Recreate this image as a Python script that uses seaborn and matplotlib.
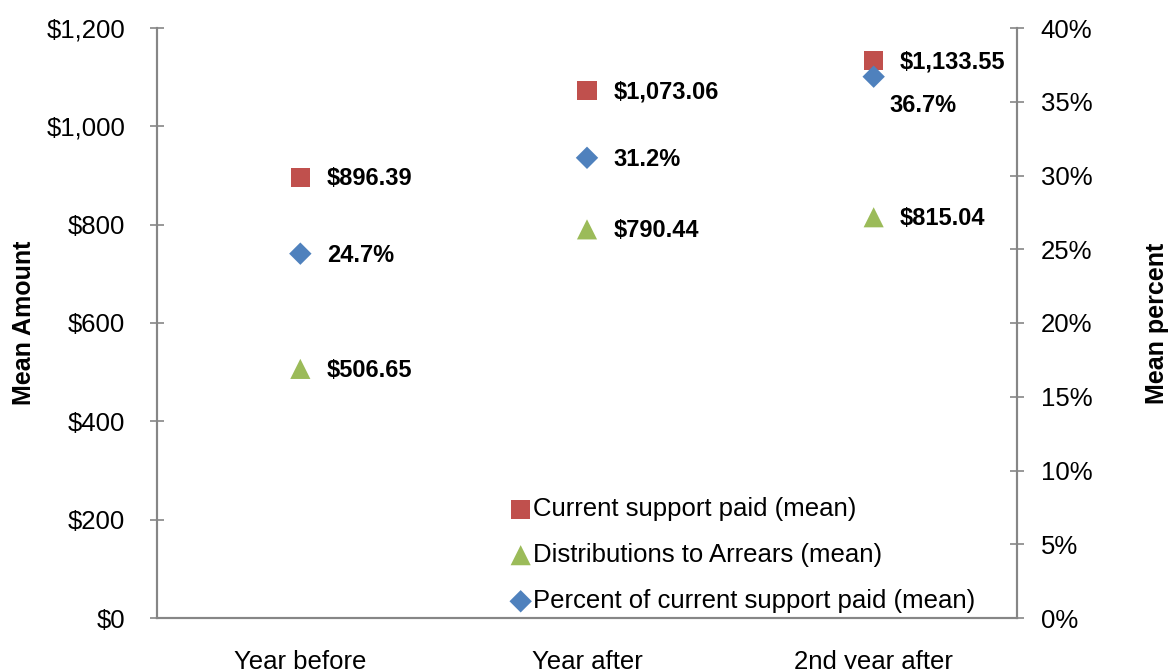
import matplotlib
matplotlib.use("Agg")
import matplotlib.pyplot as plt
from matplotlib.ticker import FuncFormatter
import seaborn as sns
import pandas as pd

# data
categories = ["Year before", "Year after", "2nd year after"]
current_support = [896.39, 1073.06, 1133.55]
arrears = [506.65, 790.44, 815.04]
pct_paid = [24.7, 31.2, 36.7]

red = "#C0504D"
green = "#9BBB59"
blue = "#4F81BD"
axis_grey = "#868686"

sns.set_style("white")
plt.rcParams["font.family"] = ["Liberation Sans", "DejaVu Sans"]
plt.rcParams["text.color"] = "black"
plt.rcParams["axes.labelcolor"] = "black"
plt.rcParams["xtick.labelcolor"] = "black"
plt.rcParams["ytick.labelcolor"] = "black"

df = pd.DataFrame({"cat": categories, "x": range(len(categories)),
                   "support": current_support, "arrears": arrears, "pct": pct_paid})

fig = plt.figure(figsize=(11.72, 6.69), dpi=100)
ax = fig.add_axes([157 / 1172, 1 - 618 / 669, 860 / 1172, 590 / 669])
ax2 = ax.twinx()

sns.scatterplot(data=df, x="x", y="support", ax=ax, marker="s", s=190, color=red,
                edgecolor="none", label="Current support paid (mean)", zorder=3)
sns.scatterplot(data=df, x="x", y="arrears", ax=ax, marker="^", s=210, color=green,
                edgecolor="none", label="Distributions to Arrears (mean)", zorder=3)
sns.scatterplot(data=df, x="x", y="pct", ax=ax2, marker="D", s=130, color=blue,
                edgecolor="none", label="Percent of current support paid (mean)", zorder=4)

ax.set_xlim(-0.5, 2.5)
ax.set_ylim(0, 1200)
ax2.set_ylim(0, 40)

# data labels
for i in range(3):
    ax.annotate(f"${current_support[i]:,.2f}", (i, current_support[i]), xytext=(19, -1),
                textcoords="offset points", va="center", ha="left",
                fontsize=17, fontweight="bold")
    ax.annotate(f"${arrears[i]:,.2f}", (i, arrears[i]), xytext=(19, -1),
                textcoords="offset points", va="center", ha="left",
                fontsize=17, fontweight="bold")
    off = (11, -21) if i == 2 else (19, -1)
    ax2.annotate(f"{pct_paid[i]:.1f}%", (i, pct_paid[i]), xytext=off,
                 textcoords="offset points", va="center", ha="left",
                 fontsize=17, fontweight="bold")

# axes styling
ax.set_yticks(range(0, 1201, 200))
ax.yaxis.set_major_formatter(FuncFormatter(lambda v, p: f"${v:,.0f}"))
ax2.set_yticks(range(0, 41, 5))
ax2.yaxis.set_major_formatter(FuncFormatter(lambda v, p: f"{v:.0f}%"))

ax.set_xticks(range(3))
ax.set_xticklabels(categories)
ax.set_xticks([-0.5, 0.5, 1.5, 2.5], minor=True)
ax.tick_params(axis="x", which="major", length=0, pad=23, labelsize=18.5)
ax.tick_params(axis="x", which="minor", length=10, direction="inout",
               color=axis_grey, width=1.2)
ax.tick_params(axis="y", length=10, direction="inout", color=axis_grey,
               width=1.2, labelsize=18.5, pad=18)
ax2.tick_params(axis="y", length=10, direction="inout", color=axis_grey,
                width=1.2, labelsize=18.5, pad=12)

for a in (ax, ax2):
    a.spines["top"].set_visible(False)
    for s in ("left", "right", "bottom"):
        a.spines[s].set_color(axis_grey)
        a.spines[s].set_linewidth(1.5)

ax.set_xlabel("")
ax.set_ylabel("Mean Amount", fontsize=18, fontweight="bold", labelpad=7)
ax2.set_ylabel("Mean percent", fontsize=18, fontweight="bold", labelpad=38)

# one legend combining both axes
h1, l1 = ax.get_legend_handles_labels()
h2, l2 = ax2.get_legend_handles_labels()
ax2.get_legend().remove()
ax.get_legend().remove()
leg = ax.legend(h1 + h2, l1 + l2, loc="lower left", bbox_to_anchor=(0.393, -0.009),
                frameon=False, fontsize=18.5, handletextpad=-0.12, labelspacing=0.86,
                handlelength=1.2, borderaxespad=0)

fig.savefig("out.png", dpi=100)
